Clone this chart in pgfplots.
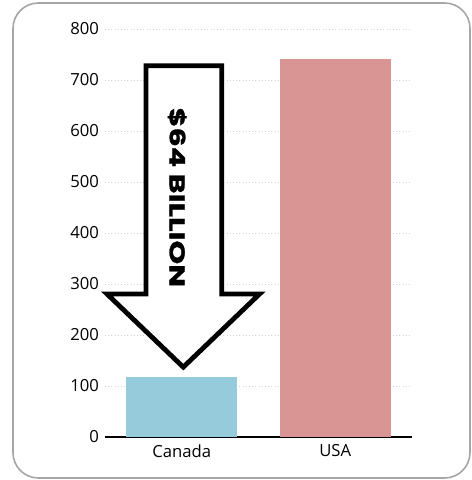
\documentclass[border=0pt]{standalone}
\usepackage{pgfplots}
\pgfplotsset{compat=1.18}
\usepackage{fontspec}
\setmainfont{Open Sans}
\newfontfamily\heavy[FakeStretch=1.42, BoldFeatures={FakeBold=1.2}]{Poppins}
\definecolor{canblue}{HTML}{95CBDA}
\definecolor{usapink}{HTML}{D99594}
\begin{document}
\begin{tikzpicture}
\useasboundingbox (0,0) rectangle (354pt,360pt);
\draw[gray!70, line width=1.2pt, rounded corners=19pt] (9.75pt,1.5pt) rectangle (352.5pt,357.75pt);
\begin{axis}[
  at={(78.75pt,32.25pt)}, anchor=south west,
  scale only axis, width=230.25pt, height=306pt,
  xmin=-0.5, xmax=1.5, ymin=0, ymax=800,
  xtick={0,1}, xticklabels={Canada,USA},
  ytick={0,100,...,800},
  axis x line*=bottom, axis y line*=left,
  y axis line style={draw=none},
  x axis line style={black, line width=1pt, -},
  major tick length=0pt,
  ymajorgrids, grid style={dotted, gray!35, line width=0.6pt},
  ticklabel style={font=\fontsize{12.5}{14}\selectfont},
  /pgf/number format/assume math mode=true,
  yticklabel style={xshift=-1pt},
  xticklabel style={yshift=-2pt},
  clip=false,
]
\addplot[ybar, bar width=0.725, fill=canblue, draw=none] coordinates {(0,117)};
\addplot[ybar, bar width=0.725, fill=usapink, draw=none] coordinates {(1,742)};
\draw[black, line width=3.6pt, fill=white, line join=miter, miter limit=10]
  (axis cs:-0.233,727.8) -- (axis cs:0.260,727.8) -- (axis cs:0.260,280.4)
  -- (axis cs:0.507,280.4) -- (axis cs:0.01,137) -- (axis cs:-0.487,280.4)
  -- (axis cs:-0.233,280.4) -- cycle;
\node[rotate=-90, font=\heavy\bfseries\fontsize{16}{18}\selectfont] at (axis cs:-0.03,470) {\$64 BILLION};
\end{axis}
\end{tikzpicture}
\end{document}
